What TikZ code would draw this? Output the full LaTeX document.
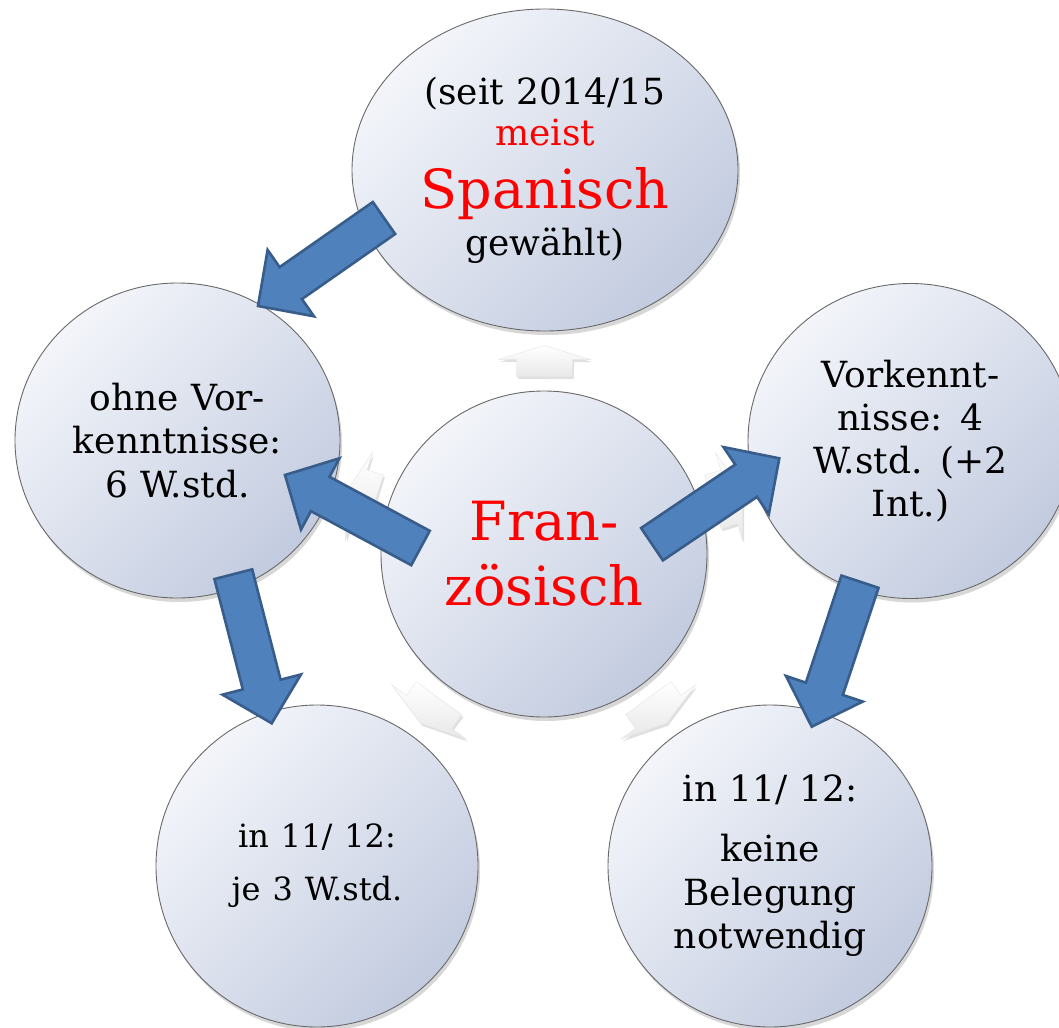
\documentclass[tikz,border=0pt]{standalone}
\usepackage{fontspec}
\setmainfont{DejaVu Serif}
\usetikzlibrary{calc,shapes.geometric,shadows}
\definecolor{bluefill}{RGB}{79,129,189}
\definecolor{blueline}{RGB}{56,93,138}
\definecolor{bubblelight}{RGB}{243,245,250}
\definecolor{bubbledark}{RGB}{194,203,223}
\definecolor{bubbleline}{RGB}{105,105,105}
\newcommand\fs[2]{\fontsize{#1}{#2}\selectfont}
% #1 style, #2 tail, #3 tip, #4 shaft half width, #5 head half width, #6 head length
\newcommand\blockarrow[6]{%
  \coordinate (ba-h) at ($(#3)!#6!(#2)$);
  \path[#1] ($(#2)!#4!90:(#3)$) -- ($(ba-h)!#4!90:(#3)$) -- ($(ba-h)!#5!90:(#3)$)
    -- (#3) -- ($(ba-h)!#5!-90:(#3)$) -- ($(ba-h)!#4!-90:(#3)$)
    -- ($(#2)!#4!-90:(#3)$) -- cycle;}
\tikzset{
  bubble/.style={ellipse, draw=bubbleline, line width=0.9pt,
    top color=bubblelight, bottom color=bubbledark, shading angle=45,
    inner sep=0pt, outer sep=0pt, align=center,
    drop shadow={shadow xshift=2pt, shadow yshift=-4pt, opacity=0.22, fill=black!70},
    font={\parindent=0pt\hyphenpenalty=10000\fs{36}{43}}},
  bluearrow/.style={fill=bluefill, draw=blueline, line width=2.6pt, line join=miter},
  faintarrow/.style={top color=white, bottom color=black!9, draw=black!10, line width=0.4pt,
    drop shadow={shadow xshift=1.5pt, shadow yshift=-2.5pt, opacity=0.12, fill=black}}
}
\begin{document}
\begin{tikzpicture}[x=1pt,y=-1pt]
\fill[white] (0,0) rectangle (1059,1027);
\useasboundingbox (0,0) rectangle (1059,1027);

% bubbles
\node[bubble, minimum width=326pt, minimum height=326pt, text width=220pt] (fr) at (544,554)
  {\fs{54}{65}\color{red}Fran-\par zösisch\par};
\node[bubble, minimum width=386pt, minimum height=322pt, text width=255pt] (sp) at (545,170)
  {\fs{36}{41}(seit 2014/15\par \color{red}meist\par \fs{54}{63}Spanisch\par \color{black}\fs{36}{47}gewählt)\par};
\node[bubble, minimum width=325pt, minimum height=315pt, text width=215pt] (ov) at (177.5,440.5)
  {\fs{36}{43.5}ohne Vor-\par kenntnisse:\par 6 W.std.\par};
\node[bubble, minimum width=325pt, minimum height=315pt, text width=215pt] (mv) at (910.5,441)
  {\fs{36}{43}Vorkennt-\par nisse: 4\par W.std. (+2\par Int.)\par};
\node[bubble, minimum width=322pt, minimum height=322pt, text width=200pt] (bl) at (317,866)
  {\fs{32}{53}in 11/ 12:\par je 3 W.std.\par};
\node[bubble, minimum width=324pt, minimum height=322pt, text width=215pt] (br) at (770,866)
  {\fs{36}{44}in 11/ 12:\par \fs{36}{60}keine\par \fs{36}{43.5}Belegung\par notwendig\par};

% faint SmartArt arrows from the centre outwards
\foreach \t/\k in {sp/1, ov/2, mv/3, bl/4, br/5}{
  \path (fr) -- coordinate[midway] (f\k m) (\t);
  \coordinate (f\k t) at ($(f\k m)!15.5pt!(fr)$);
  \coordinate (f\k h) at ($(f\k m)!15.5pt!(\t)$);
  \blockarrow{faintarrow}{f\k t}{f\k h}{28pt}{46pt}{14pt}
}

% blue arrows
\coordinate (a1t) at (384,218);   \coordinate (a1h) at (258,306);
\coordinate (a2t) at (420.5,548); \coordinate (a2h) at (285,475);
\coordinate (a3t) at (233.3,574.2); \coordinate (a3h) at (271.7,723.3);
\coordinate (a4t) at (652,544.2); \coordinate (a4h) at (779.3,458.3);
\coordinate (a5t) at (860,581.7); \coordinate (a5h) at (811.7,726.7);
\blockarrow{bluearrow}{a1t}{a1h}{19.5pt}{40.5pt}{40pt}
\blockarrow{bluearrow}{a2t}{a2h}{19.5pt}{40.5pt}{40pt}
\blockarrow{bluearrow}{a3t}{a3h}{19.5pt}{40.5pt}{40pt}
\blockarrow{bluearrow}{a4t}{a4h}{19.5pt}{40.5pt}{40pt}
\blockarrow{bluearrow}{a5t}{a5h}{19.5pt}{40.5pt}{40pt}
\end{tikzpicture}
\end{document}
